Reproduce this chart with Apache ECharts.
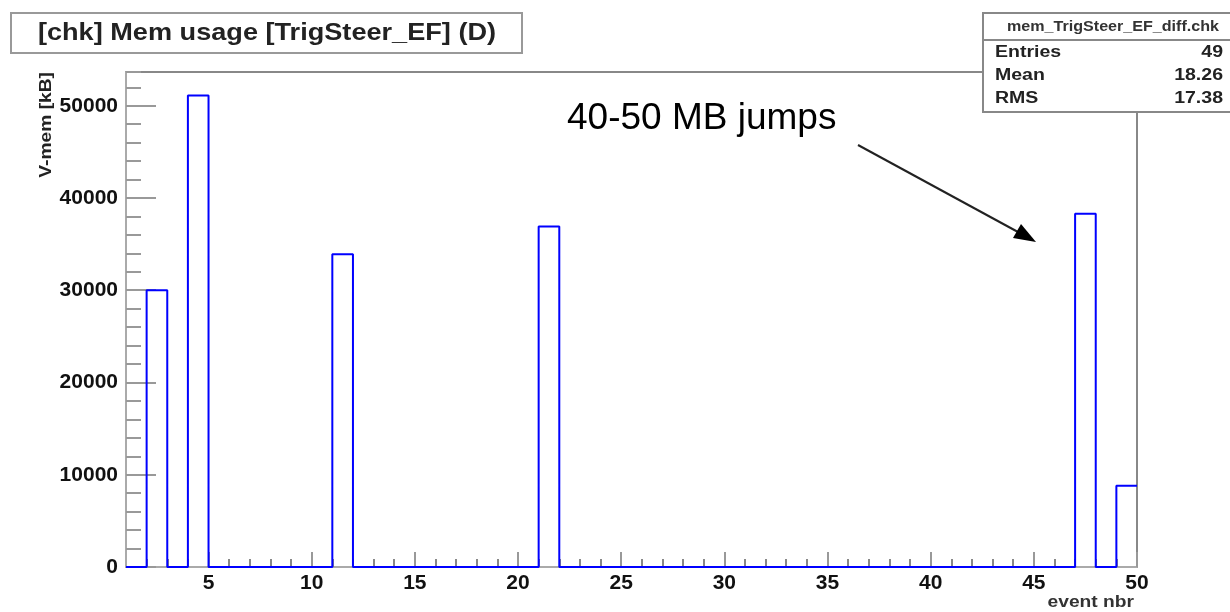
<!DOCTYPE html>
<html>
<head>
<meta charset="utf-8">
<script src="https://cdn.jsdelivr.net/npm/echarts@6/dist/echarts.min.js"></script>
<style>
html,body{margin:0;padding:0;background:#ffffff;}
#chart{width:1230px;height:612px;}
</style>
</head>
<body>
<div id="chart"></div>
<script>
// ---- chart content ----
const titleText = '[chk] Mem usage [TrigSteer_EF] (D)';
const histName = 'mem_TrigSteer_EF_diff.chk';
const statLabels = ['Entries', 'Mean', 'RMS'];
const statValues = ['49', '18.26', '17.38'];
const xTitle = 'event nbr';
const yTitle = 'V-mem [kB]';
const annotationText = '40-50 MB jumps';

// histogram binning: 49 bins of width 1 from 1 to 50
const binLow = 1;
const binHigh = 50;
// V-mem difference per event bin (kB), bins [1,2], [2,3], ... [49,50]
const vmemDiff = [
  0, 30000, 0, 51100, 0, 0, 0, 0, 0, 0,
  33900, 0, 0, 0, 0, 0, 0, 0, 0, 0,
  36900, 0, 0, 0, 0, 0, 0, 0, 0, 0,
  0, 0, 0, 0, 0, 0, 0, 0, 0, 0,
  0, 0, 0, 0, 0, 0, 38300, 0, 8800
];
const xMajorTicks = [5, 10, 15, 20, 25, 30, 35, 40, 45, 50];
const yMajorInterval = 10000;
const yMinorInterval = 2000;

// ---- build ----
const FONT = "'Liberation Sans', Arial, Helvetica, sans-serif";
const stepData = vmemDiff.map((v, i) => [binLow + i, v]);
stepData.push([binHigh, vmemDiff[vmemDiff.length - 1]]);
const yMax = Math.max.apply(null, vmemDiff) * 1.05;

const chart = echarts.init(document.getElementById('chart'), null, {renderer: 'canvas'});

const statTexts = [];
statLabels.forEach((lab, i) => {
  const yy = [53, 76, 99][i];
  statTexts.push({
    type: 'text', x: 995, y: yy, z: 102, scaleX: 1.22,
    style: {text: lab, x: 0, y: 0, align: 'left', verticalAlign: 'middle',
      font: 'bold 16px ' + FONT, fill: '#222'}
  });
  statTexts.push({
    type: 'text', x: 1223, y: yy, z: 102, scaleX: 1.22,
    style: {text: statValues[i], x: 0, y: 0, align: 'right', verticalAlign: 'middle',
      font: 'bold 16px ' + FONT, fill: '#222'}
  });
});

const option = {
  animation: false,
  backgroundColor: '#ffffff',
  grid: {
    left: 126, top: 72, width: 1011, height: 495,
    show: true, borderColor: '#888', borderWidth: 2, backgroundColor: 'transparent',
    containLabel: false
  },
  xAxis: [
    {
      type: 'value', min: binLow, max: binHigh, interval: 1, position: 'bottom',
      axisLine: {show: true, onZero: false, lineStyle: {color: '#aaa', width: 2}},
      axisTick: {show: true, inside: true, length: 8, lineStyle: {color: '#888', width: 2}},
      axisLabel: {
        show: true, margin: 6, showMinLabel: false, showMaxLabel: true,
        fontFamily: FONT, fontWeight: 'bold', fontSize: 21, color: '#111',
        formatter: v => (xMajorTicks.indexOf(v) >= 0 ? String(v) : '')
      },
      splitLine: {show: false}
    },
    {
      type: 'value', min: binLow, max: binHigh, position: 'bottom',
      axisLine: {show: false},
      axisTick: {show: true, inside: true, length: 15, customValues: xMajorTicks,
        lineStyle: {color: '#999', width: 2}},
      axisLabel: {show: false},
      splitLine: {show: false}
    }
  ],
  yAxis: [
    {
      type: 'value', min: 0, max: yMax, interval: yMajorInterval, position: 'left', offset: 0,
      axisLine: {show: true, onZero: false, lineStyle: {color: '#aaa', width: 2}},
      axisTick: {show: true, inside: true, length: 30, lineStyle: {color: '#999', width: 2}},
      axisLabel: {
        show: true, margin: 8, showMaxLabel: false,
        fontFamily: FONT, fontWeight: 'bold', fontSize: 21, color: '#111',
        formatter: v => String(v)
      },
      splitLine: {show: false}
    },
    {
      type: 'value', min: 0, max: yMax, interval: yMinorInterval, position: 'left', offset: 0,
      axisLine: {show: false},
      axisTick: {show: true, inside: true, length: 15, lineStyle: {color: '#999', width: 2}},
      axisLabel: {show: false},
      splitLine: {show: false}
    }
  ],
  series: [
    {
      type: 'line', xAxisIndex: 0, yAxisIndex: 0,
      data: stepData, step: 'end',
      symbol: 'none', showSymbol: false, clip: false,
      lineStyle: {color: '#0000ff', width: 2},
      z: 5
    }
  ],
  graphic: [
    // title box
    {type: 'rect', z: 100, shape: {x: 11, y: 13, width: 511, height: 40},
      style: {fill: '#fff', stroke: '#999', lineWidth: 2}},
    {type: 'text', x: 267, y: 33, z: 101, scaleX: 1.13,
      style: {text: titleText, x: 0, y: 0, align: 'center', verticalAlign: 'middle',
        font: 'bold 24px ' + FONT, fill: '#222'}},
    // stats box
    {type: 'rect', z: 100, shape: {x: 983, y: 13, width: 262, height: 99},
      style: {fill: '#fff', stroke: '#888', lineWidth: 2}},
    {type: 'line', z: 101, shape: {x1: 983, y1: 40, x2: 1232, y2: 40},
      style: {stroke: '#888', lineWidth: 2}},
    {type: 'text', x: 1113, y: 27, z: 102, scaleX: 1.15,
      style: {text: histName, x: 0, y: 0, align: 'center', verticalAlign: 'middle',
        font: 'bold 14px ' + FONT, fill: '#333'}},
    ...statTexts,
    // annotation
    {type: 'text', x: 567, y: 119, z: 101,
      style: {text: annotationText, x: 0, y: 0, align: 'left', verticalAlign: 'middle',
        font: '37px ' + FONT, fill: '#000'}},
    {type: 'line', z: 101, shape: {x1: 858, y1: 145, x2: 1018, y2: 232},
      style: {stroke: '#222', lineWidth: 2}},
    {type: 'polygon', z: 101, shape: {points: [[1036, 242], [1013, 238], [1021, 224]]},
      style: {fill: '#000'}},
    // axis titles
    {type: 'text', x: 47, y: 72, z: 101, rotation: Math.PI / 2, scaleX: 1.2,
      style: {text: yTitle, x: 0, y: 0, align: 'right', verticalAlign: 'middle',
        font: 'bold 16px ' + FONT, fill: '#222'}},
    {type: 'text', x: 1134, y: 603, z: 101, scaleX: 1.2,
      style: {text: xTitle, x: 0, y: 0, align: 'right', verticalAlign: 'middle',
        font: 'bold 16px ' + FONT, fill: '#333'}}
  ]
};
chart.setOption(option);
</script>
</body>
</html>
